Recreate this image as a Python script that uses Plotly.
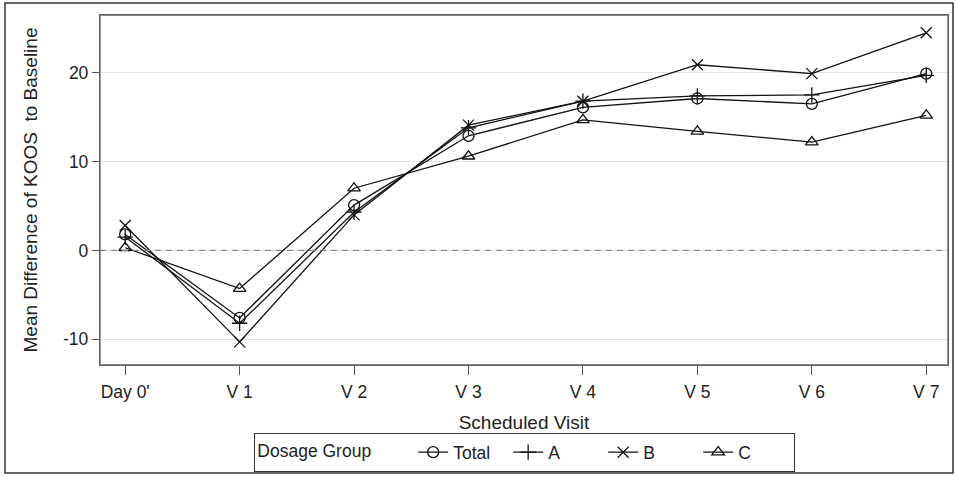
import plotly.graph_objects as go

visits = ["Day 0'", "V 1", "V 2", "V 3", "V 4", "V 5", "V 6", "V 7"]
total = [1.8, -7.6, 5.1, 12.9, 16.1, 17.1, 16.5, 19.9]
grp_a = [1.5, -8.2, 4.3, 13.8, 16.8, 17.4, 17.5, 19.7]
grp_b = [2.8, -10.3, 4.0, 14.1, 16.8, 20.9, 19.9, 24.5]
grp_c = [0.3, -4.3, 7.0, 10.6, 14.7, 13.4, 12.2, 15.2]
y_ticks = [-10, 0, 10, 20]
y_tick_text = ["-10", "0", "10", "20"]

series = [("Total", total, "circle-open"),
          ("A", grp_a, "cross-thin-open"),
          ("B", grp_b, "x-thin-open"),
          ("C", grp_c, "triangle-up-open")]

FONT = "Liberation Sans, Arial, sans-serif"
x_idx = list(range(len(visits)))

fig = go.Figure()
for name, vals, sym in series:
    fig.add_trace(go.Scatter(
        x=x_idx, y=vals, name=name, mode="lines+markers",
        line=dict(color="#111111", width=1.3),
        marker=dict(symbol=sym, size=11, color="#111111",
                    line=dict(color="#111111", width=1.3)),
    ))

L, R, T, B = 100, 8, 15, 112
W, H = 956, 477
pw, ph = W - L - R, H - T - B

def px(xp):
    return (xp - L) / pw

def py(yp):
    return (H - B - yp) / ph

fig.add_shape(type="rect", xref="paper", yref="paper",
              x0=px(5), x1=px(953), y0=py(473), y1=py(3),
              line=dict(color="#333333", width=1.5), layer="below")
fig.add_shape(type="line", xref="paper", yref="y", x0=0, x1=1, y0=0, y1=0,
              line=dict(color="#8a8a8a", width=1.4, dash="6px,5px"), layer="above")
fig.add_shape(type="rect", xref="paper", yref="paper", x0=0, x1=1, y0=0, y1=1,
              line=dict(color="#666666", width=1.3), layer="above")

fig.update_layout(
    width=W, height=H,
    margin=dict(l=L, r=R, t=T, b=B, autoexpand=False),
    paper_bgcolor="white", plot_bgcolor="white",
    font=dict(family=FONT, size=17, color="#222222"),
    showlegend=True,
    legend=dict(
        orientation="h", x=px(254), xanchor="left", y=py(433), yanchor="top",
        title=dict(text="Dosage Group       ", side="left", font=dict(size=17.5)),
        bordercolor="#333333", borderwidth=1.3, bgcolor="white",
        font=dict(size=17.5), itemsizing="trace",
        entrywidth=50, entrywidthmode="pixels",
    ),
    xaxis=dict(
        tickmode="array", tickvals=x_idx, ticktext=visits,
        range=[-0.22, 7.19], showgrid=False, zeroline=False,
        showline=True, linecolor="#555555", linewidth=1.3, mirror=True,
        ticks="outside", ticklen=9, tickcolor="#555555",
        tickfont=dict(size=17.5), ticklabelstandoff=2,
        title=dict(text="Scheduled Visit", font=dict(size=19), standoff=14),
    ),
    yaxis=dict(
        range=[-12.9, 26.5], tickvals=y_ticks, ticktext=y_tick_text,
        showgrid=True, gridcolor="#e3e3e3", gridwidth=1, zeroline=False,
        showline=True, linecolor="#555555", linewidth=1.3, mirror=True,
        ticks="outside", ticklen=7, tickcolor="#555555",
        tickfont=dict(size=17.5),
        title=dict(text="Mean Difference of KOOS  to Baseline", font=dict(size=19), standoff=20),
    ),
)

fig.write_html("out.html")
